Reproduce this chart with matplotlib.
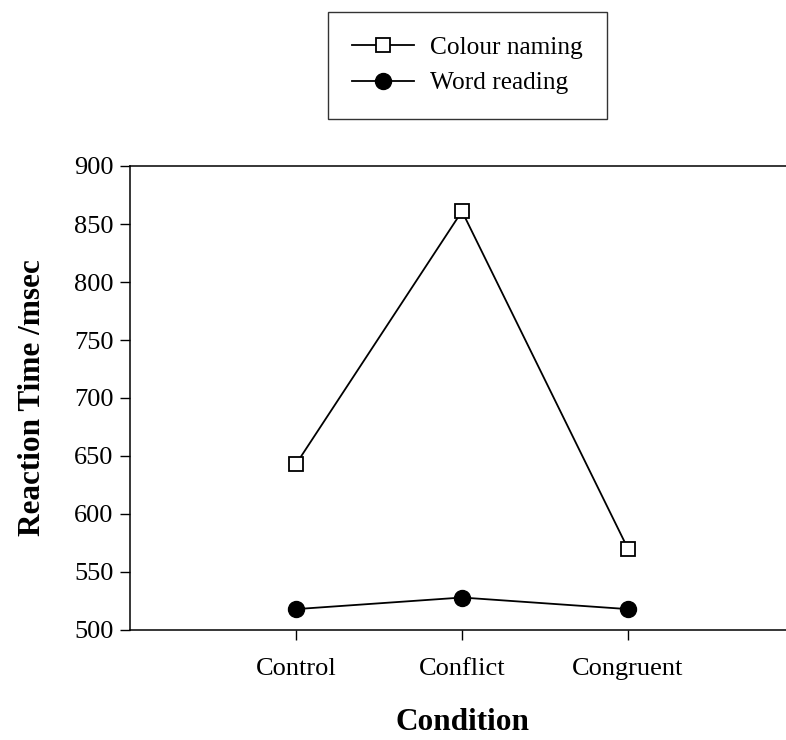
import matplotlib
matplotlib.use("Agg")
import matplotlib.pyplot as plt

conditions = ["Control", "Conflict", "Congruent"]
colour_naming = [643, 861, 570]
word_reading = [518, 528, 518]
yticks = [500, 550, 600, 650, 700, 750, 800, 850, 900]

plt.rcParams['font.family'] = ['Liberation Serif', 'DejaVu Serif']

fig = plt.figure(figsize=(7.86, 7.4), dpi=100)
ax = fig.add_axes([130/786, 110/740, 664/786, 464/740])

x = list(range(1, len(conditions) + 1))
ax.plot(x, colour_naming, '-', color='black', lw=1.3, marker='s', ms=10,
        mfc='white', mec='black', mew=1.3, label='Colour naming')
ax.plot(x, word_reading, '-', color='black', lw=1.3, marker='o', ms=11.5,
        mfc='black', mec='black', label='Word reading')

ax.set_xlim(0, 4)
ax.set_ylim(500, 900)
ax.set_xticks(x)
ax.set_xticklabels(conditions)
ax.set_yticks(yticks)
ax.tick_params(direction='out', length=7, width=1, labelsize=19, pad=5)
ax.tick_params(axis='x', pad=13)

ax.spines['right'].set_visible(False)
for s in ['left', 'bottom', 'top']:
    ax.spines[s].set_linewidth(1.1)

ax.set_xlabel('Condition', fontsize=22.5, fontweight='bold', labelpad=20)
ax.set_ylabel('Reaction Time /msec', fontsize=22.5, fontweight='bold', labelpad=19)

handles, labels = ax.get_legend_handles_labels()
leg = fig.legend(handles, labels, loc='upper left',
                 bbox_to_anchor=(328/786, 1 - 12/740), frameon=True,
                 fancybox=False, edgecolor='black', fontsize=18.3,
                 handlelength=2.45, borderpad=0.95,
                 labelspacing=0.5, handletextpad=0.6, borderaxespad=0)
leg.get_frame().set_linewidth(1.0)

fig.savefig('out.png', dpi=100)
